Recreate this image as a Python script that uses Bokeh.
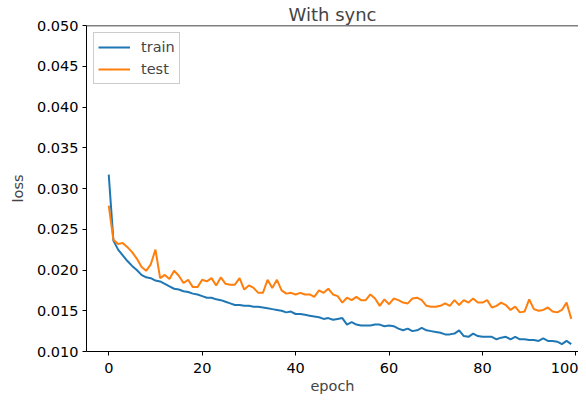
from bokeh.plotting import figure
from bokeh.models import Range1d, FixedTicker, NumeralTickFormatter, Legend, LegendItem, Span
from bokeh.embed import file_html
from bokeh.resources import INLINE

epochs = list(range(100))
train = [0.0317, 0.0236, 0.0225, 0.0218, 0.0211, 0.0205, 0.0200, 0.0194, 0.0191, 0.0190,
         0.0187, 0.0186, 0.0183, 0.0180, 0.0177, 0.0176, 0.0174, 0.0173, 0.0171, 0.0170,
         0.0168, 0.0166, 0.0166, 0.0164, 0.0163, 0.0161, 0.0159, 0.0157, 0.0157, 0.0156,
         0.0156, 0.0155, 0.0155, 0.0154, 0.0153, 0.0152, 0.0151, 0.0150, 0.0148, 0.0149,
         0.0146, 0.0146, 0.0145, 0.0144, 0.0143, 0.0142, 0.0140, 0.0141, 0.0139, 0.0140,
         0.0141, 0.0133, 0.0136, 0.0133, 0.0132, 0.0132, 0.0132, 0.0133, 0.0133, 0.0131,
         0.0132, 0.0131, 0.0128, 0.0126, 0.0128, 0.0125, 0.0126, 0.0129, 0.0126, 0.0125,
         0.0124, 0.0123, 0.0121, 0.0121, 0.0122, 0.0126, 0.0119, 0.0118, 0.0122, 0.0119,
         0.0118, 0.0118, 0.0118, 0.0115, 0.0117, 0.0118, 0.0115, 0.0118, 0.0115, 0.0115,
         0.0114, 0.0114, 0.0113, 0.0116, 0.0113, 0.0113, 0.0112, 0.0109, 0.0113, 0.0109]
test = [0.0279, 0.0237, 0.0232, 0.0233, 0.0228, 0.0222, 0.0214, 0.0204, 0.0199, 0.0207,
        0.0225, 0.0190, 0.0194, 0.0189, 0.0199, 0.0193, 0.0184, 0.0188, 0.0179, 0.0179,
        0.0188, 0.0186, 0.0190, 0.0181, 0.0191, 0.0183, 0.0182, 0.0182, 0.0190, 0.0176,
        0.0181, 0.0178, 0.0172, 0.0172, 0.0188, 0.0178, 0.0188, 0.0175, 0.0171, 0.0172,
        0.0170, 0.0172, 0.0170, 0.0170, 0.0167, 0.0175, 0.0172, 0.0177, 0.0170, 0.0168,
        0.0160, 0.0166, 0.0163, 0.0167, 0.0163, 0.0163, 0.0170, 0.0165, 0.0156, 0.0164,
        0.0158, 0.0165, 0.0163, 0.0160, 0.0159, 0.0165, 0.0166, 0.0163, 0.0156, 0.0155,
        0.0155, 0.0156, 0.0159, 0.0156, 0.0163, 0.0157, 0.0163, 0.0160, 0.0165, 0.0160,
        0.0160, 0.0163, 0.0154, 0.0156, 0.0160, 0.0157, 0.0151, 0.0155, 0.0148, 0.0149,
        0.0164, 0.0152, 0.0150, 0.0151, 0.0154, 0.0149, 0.0148, 0.0151, 0.0160, 0.0140]
x_ticks = [0, 20, 40, 60, 80, 100]
y_ticks = [0.010, 0.015, 0.020, 0.025, 0.030, 0.035, 0.040, 0.045, 0.050]

FONT = "DejaVu Sans"

p = figure(width=578, height=396, output_backend="svg", toolbar_location=None,
           x_range=Range1d(-4.76, 100.55), y_range=Range1d(0.010, 0.050),
           title="With sync", x_axis_label="epoch", y_axis_label="loss",
           min_border_left=86, min_border_right=0, min_border_top=0, min_border_bottom=0)

p.title.align = "center"
p.title.text_font = FONT
p.title.text_font_size = "18px"
p.title.text_font_style = "normal"
p.title.standoff = 2

p.grid.visible = False
p.outline_line_color = None
p.background_fill_color = "white"
p.border_fill_color = "white"

for ax in (p.xaxis[0], p.yaxis[0]):
    ax.axis_label_text_font = FONT
    ax.axis_label_text_font_size = "14.5px"
    ax.axis_label_text_font_style = "normal"
    ax.major_label_text_font = FONT
    ax.major_label_text_font_size = "14.5px"
    ax.major_tick_out = 4
    ax.major_tick_in = 0
    ax.minor_tick_out = 0
    ax.minor_tick_in = 0
    ax.axis_line_color = "black"
    ax.major_tick_line_color = "black"
    ax.major_label_text_color = "black"

p.xaxis.ticker = FixedTicker(ticks=x_ticks)
p.yaxis.ticker = FixedTicker(ticks=y_ticks)
p.yaxis.formatter = NumeralTickFormatter(format="0.000")
p.xaxis.major_label_standoff = 7
p.xaxis.axis_label_standoff = 2
p.yaxis.major_label_standoff = 4
p.yaxis.axis_label_standoff = 8

# top spine (the right spine lies outside the visible window in the original)
p.add_layout(Span(location=0.050, dimension="width", line_color="black", line_width=1.5))

r_train = p.line(epochs, train, line_color="#1f77b4", line_width=2)
r_test = p.line(epochs, test, line_color="#ff7f0e", line_width=2)

legend = Legend(items=[LegendItem(label="train", renderers=[r_train]),
                       LegendItem(label="test", renderers=[r_test])],
                location="top_left")
legend.label_text_font = FONT
legend.label_text_font_size = "14.5px"
legend.border_line_color = "#cccccc"
legend.border_line_alpha = 1
legend.background_fill_alpha = 0.8
legend.glyph_width = 32
legend.glyph_height = 20
legend.label_height = 20
legend.spacing = 2
legend.padding = 4
legend.margin = 7
legend.label_standoff = 11
p.add_layout(legend)

open("out.html", "w").write(file_html(p, INLINE))
